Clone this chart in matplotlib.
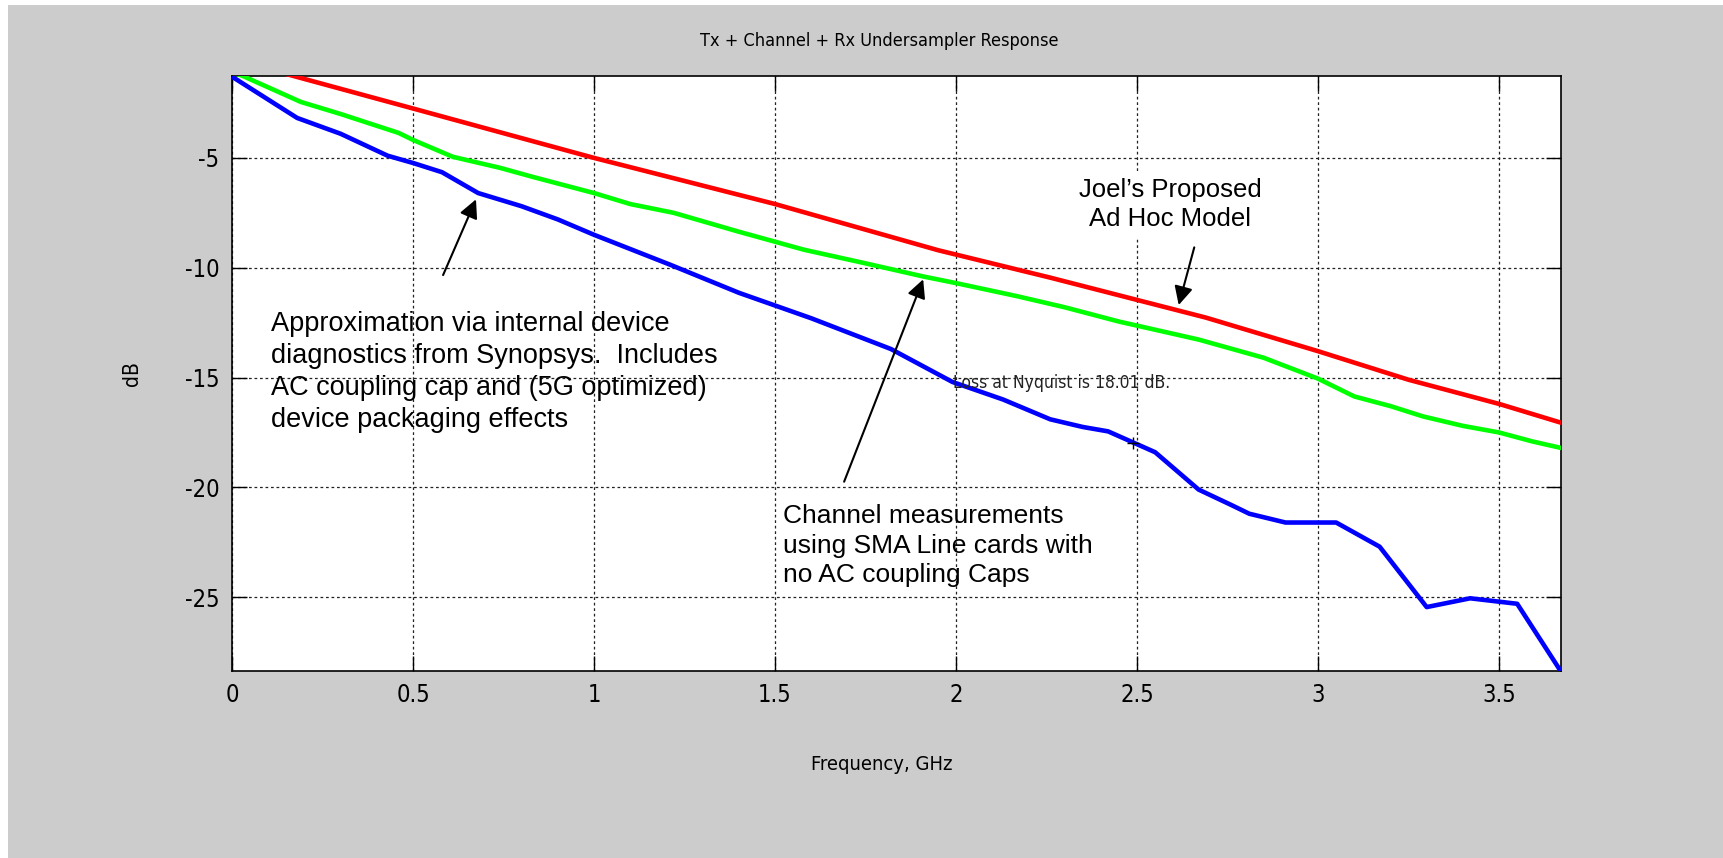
import numpy as np
import matplotlib.pyplot as plt
from matplotlib.patches import Rectangle

plt.rcParams['axes.unicode_minus'] = False

# data (GHz, dB)
blue_x = [0, 0.18, 0.30, 0.43, 0.50, 0.58, 0.68, 0.80, 0.90, 1.00, 1.21, 1.40, 1.60, 1.82,
          1.99, 2.13, 2.26, 2.35, 2.42, 2.55, 2.67, 2.76, 2.81, 2.91, 3.05, 3.17, 3.30,
          3.42, 3.55, 3.67]
blue_y = [-1.3, -3.18, -3.9, -4.9, -5.23, -5.65, -6.6, -7.2, -7.8, -8.5, -9.86, -11.14,
          -12.3, -13.7, -15.2, -16.0, -16.9, -17.25, -17.45, -18.4, -20.1, -20.8, -21.2,
          -21.6, -21.6, -22.7, -25.45, -25.05, -25.3, -28.36]

green_x = [0, 0.03, 0.19, 0.30, 0.46, 0.50, 0.61, 0.74, 0.83, 1.00, 1.10, 1.22, 1.40, 1.58,
           1.75, 1.91, 2.00, 2.17, 2.30, 2.45, 2.67, 2.85, 3.00, 3.10, 3.20, 3.29, 3.40,
           3.50, 3.59, 3.67]
green_y = [-1.1, -1.27, -2.45, -3.0, -3.86, -4.18, -4.95, -5.45, -5.86, -6.6, -7.1, -7.5,
           -8.36, -9.18, -9.8, -10.4, -10.7, -11.3, -11.8, -12.45, -13.27, -14.1, -15.05,
           -15.86, -16.3, -16.77, -17.2, -17.5, -17.9, -18.2]

red_x = [0, 0.17, 0.5, 1.0, 1.5, 1.95, 2.26, 2.69, 3.0, 3.25, 3.5, 3.67]
red_y = [-0.5, -1.27, -2.75, -5.0, -7.1, -9.2, -10.45, -12.27, -13.8, -15.1, -16.2, -17.05]

nyq_x, nyq_y = 2.49, -18.0

xticks = [0, 0.5, 1, 1.5, 2, 2.5, 3, 3.5]
xticklabels = ['0', '0.5', '1', '1.5', '2', '2.5', '3', '3.5']
yticks = [-25, -20, -15, -10, -5]

arial = ['Liberation Sans', 'DejaVu Sans']
cond = dict(family=['DejaVu Sans'], stretch='condensed')

W, H = 1723, 858
fig = plt.figure(figsize=(W / 100, H / 100), dpi=100, facecolor='white')
fig.patches.append(Rectangle((8 / W, 0), 1, 1 - 5 / H, transform=fig.transFigure,
                             facecolor='#cccccc', edgecolor='none', zorder=-10))

ax = fig.add_axes([232 / W, 1 - 671 / H, (1561 - 232) / W, (671 - 76) / H])
ax.set_facecolor('white')

ax.plot(blue_x, blue_y, color='#0000ff', lw=3.3, zorder=3)
ax.plot(green_x, green_y, color='#00ff00', lw=3.3, zorder=3)
ax.plot(red_x, red_y, color='#ff0000', lw=3.3, zorder=3)
ax.plot([nyq_x], [nyq_y], marker='+', color='black', ms=9, mew=1, zorder=4)

ax.set_xlim(0, 3.671)
ax.set_ylim(-28.36, -1.27)
ax.set_xticks(xticks)
ax.set_xticklabels(xticklabels)
ax.set_yticks(yticks)
ax.grid(True, color='#222222', linestyle=(0, (2.2, 2.2)), lw=0.9)
ax.tick_params(direction='in', length=11, width=1, top=True, right=True,
               labelsize=17, pad=9, colors='black')
for lab in ax.get_xticklabels() + ax.get_yticklabels():
    lab.set_family(cond['family'])
    lab.set_stretch(cond['stretch'])
for s in ax.spines.values():
    s.set_linewidth(1.2)

fig.text(879 / W, 1 - 41 / H, 'Tx + Channel + Rx Undersampler Response', ha='center',
         va='center', fontsize=13, **cond)
ax.set_xlabel('Frequency, GHz', fontsize=14.5, labelpad=34, **cond)
ax.xaxis.label.set_x((882 - 232) / (1561 - 232))
ax.set_ylabel('dB', fontsize=15, labelpad=31, **cond)

ax.text(0.108, -11.95, 'Approximation via internal device\ndiagnostics from Synopsys.  Includes\n'
        'AC coupling cap and (5G optimized)\ndevice packaging effects',
        ha='left', va='top', fontsize=19.5, family=arial, linespacing=1.3, zorder=5)
ax.text(1.522, -20.75, 'Channel measurements\nusing SMA Line cards with\nno AC coupling Caps',
        ha='left', va='top', fontsize=19, family=arial, linespacing=1.3, zorder=5)
ax.text(2.591, -5.9, 'Joel\u2019s Proposed\nAd Hoc Model', ha='center', va='top',
        fontsize=18.5, family=arial, linespacing=1.28, zorder=5,
        bbox=dict(facecolor='white', edgecolor='none', pad=5))
ax.text(1.992, -15.23, 'Loss at Nyquist is 18.01 dB.', ha='left', va='center',
        fontsize=12.5, color='#222222', zorder=5, **cond)

arrow = dict(arrowstyle='-|>', color='black', lw=1.5, mutation_scale=28)
ax.annotate('', xy=(0.677, -6.77), xytext=(0.580, -10.45), arrowprops=arrow, zorder=5)
ax.annotate('', xy=(1.912, -10.41), xytext=(1.688, -19.86), arrowprops=arrow, zorder=5)
ax.annotate('', xy=(2.613, -11.82), xytext=(2.660, -8.95), arrowprops=arrow, zorder=5)

fig.savefig('out.png', dpi=100, facecolor=fig.get_facecolor())
